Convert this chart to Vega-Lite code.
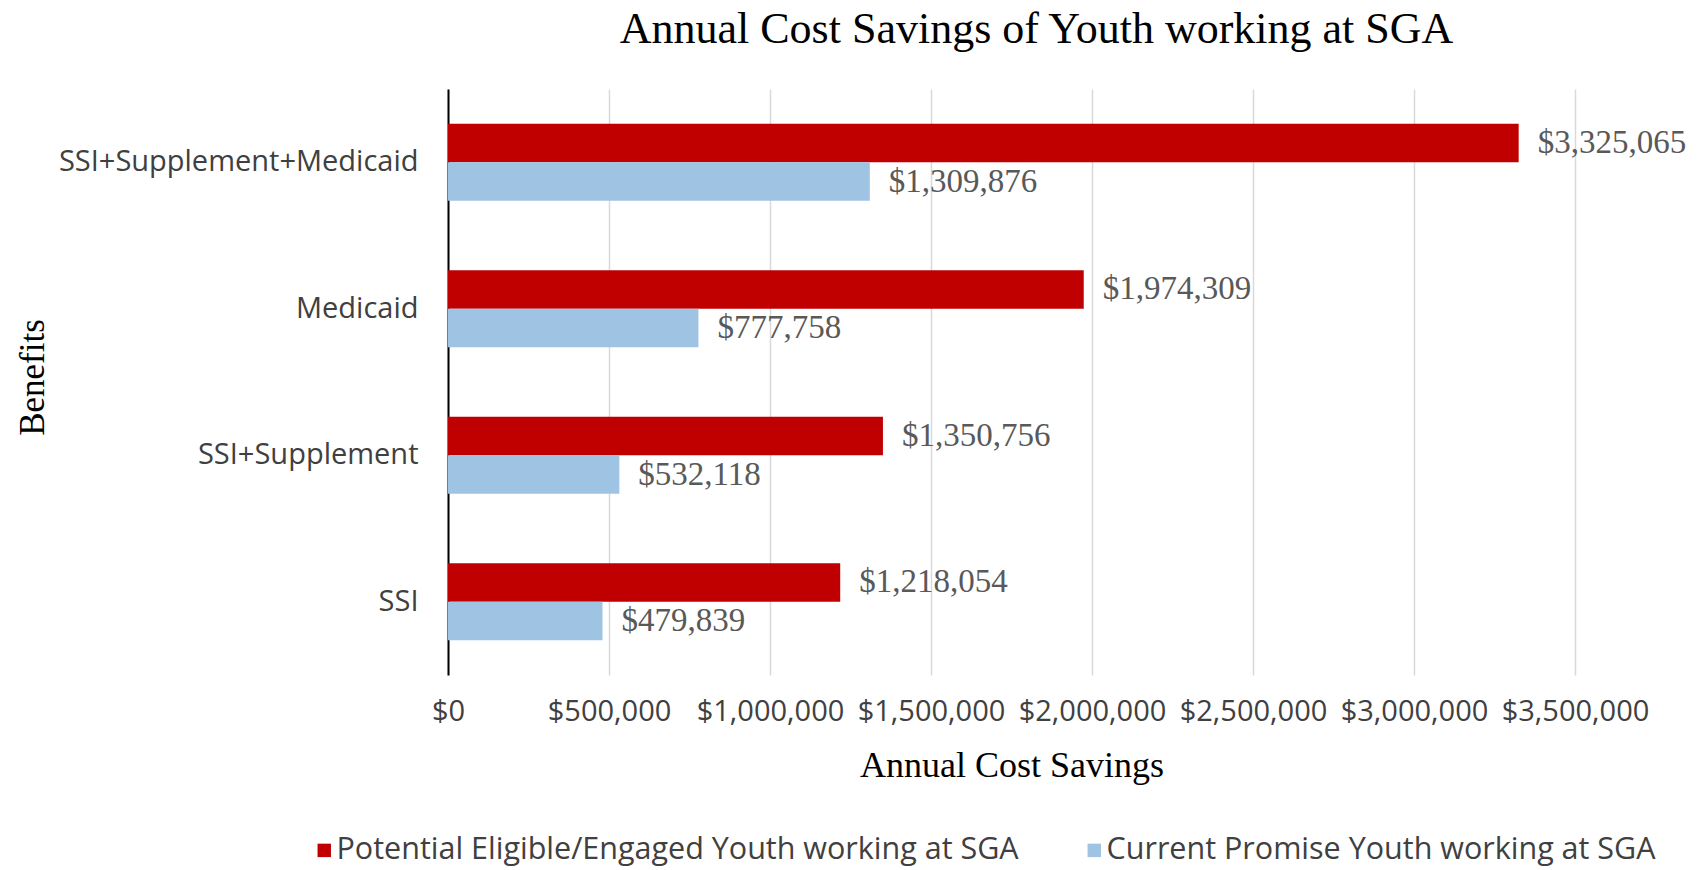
{
  "$schema": "https://vega.github.io/schema/vega-lite/v6.json",
  "width": 1127,
  "height": 586,
  "autosize": {"type": "none"},
  "padding": {"left": 448, "top": 89, "right": 125, "bottom": 195},
  "background": "white",
  "config": {"view": {"stroke": null}},
  "title": {
    "text": "Annual Cost Savings of Youth working at SGA",
    "font": "Liberation Serif",
    "fontSize": 44,
    "fontWeight": "normal",
    "color": "#000000",
    "anchor": "middle",
    "dx": 25,
    "offset": 37
  },
  "data": {
    "values": [
      {"Benefits": "SSI+Supplement+Medicaid", "Series": "Potential Eligible/Engaged Youth working at SGA", "Value": 3325065},
      {"Benefits": "SSI+Supplement+Medicaid", "Series": "Current Promise Youth working at SGA", "Value": 1309876},
      {"Benefits": "Medicaid", "Series": "Potential Eligible/Engaged Youth working at SGA", "Value": 1974309},
      {"Benefits": "Medicaid", "Series": "Current Promise Youth working at SGA", "Value": 777758},
      {"Benefits": "SSI+Supplement", "Series": "Potential Eligible/Engaged Youth working at SGA", "Value": 1350756},
      {"Benefits": "SSI+Supplement", "Series": "Current Promise Youth working at SGA", "Value": 532118},
      {"Benefits": "SSI", "Series": "Potential Eligible/Engaged Youth working at SGA", "Value": 1218054},
      {"Benefits": "SSI", "Series": "Current Promise Youth working at SGA", "Value": 479839}
    ]
  },
  "encoding": {
    "y": {
      "field": "Benefits",
      "type": "nominal",
      "sort": ["SSI+Supplement+Medicaid", "Medicaid", "SSI+Supplement", "SSI"],
      "scale": {"paddingInner": 0.474, "paddingOuter": 0.237},
      "axis": {
        "title": "Benefits",
        "titleFont": "Liberation Serif",
        "titleFontSize": 35,
        "titleFontWeight": "normal",
        "titleColor": "#000000",
        "titleX": -416,
        "titleY": 288,
        "titleAlign": "center",
        "titleBaseline": "middle",
        "titleAngle": -90,
        "labelFont": "Open Sans",
        "labelFontSize": 29,
        "labelColor": "#404040",
        "labelPadding": 30,
        "labelLimit": 1000,
        "ticks": false,
        "domain": true,
        "domainColor": "#000000",
        "domainWidth": 2,
        "grid": false
      }
    },
    "yOffset": {
      "field": "Series",
      "type": "nominal",
      "sort": ["Potential Eligible/Engaged Youth working at SGA", "Current Promise Youth working at SGA"]
    },
    "x": {
      "field": "Value",
      "type": "quantitative",
      "scale": {"domain": [0, 3500000], "nice": false},
      "axis": {
        "title": "Annual Cost Savings",
        "titleFont": "Liberation Serif",
        "titleFontSize": 36,
        "titleFontWeight": "normal",
        "titleColor": "#000000",
        "titlePadding": 22,
        "values": [0, 500000, 1000000, 1500000, 2000000, 2500000, 3000000, 3500000],
        "format": "$,.0f",
        "labelFont": "Open Sans",
        "labelFontSize": 29,
        "labelColor": "#404040",
        "labelPadding": 22,
        "labelOverlap": false,
        "labelFlush": false,
        "ticks": false,
        "domain": false,
        "grid": true,
        "gridColor": "#D9D9D9",
        "gridWidth": 1.5
      }
    }
  },
  "layer": [
    {
      "mark": {"type": "bar"},
      "encoding": {
        "color": {
          "field": "Series",
          "type": "nominal",
          "scale": {
            "domain": ["Potential Eligible/Engaged Youth working at SGA", "Current Promise Youth working at SGA"],
            "range": ["#C00000", "#9FC3E3"]
          },
          "legend": {
            "title": null,
            "orient": "none",
            "legendX": -139,
            "legendY": 746,
            "direction": "horizontal",
            "symbolType": "square",
            "symbolSize": 180,
            "symbolStrokeWidth": 0,
            "labelFont": "Open Sans",
            "labelFontSize": 30.5,
            "labelColor": "#404040",
            "labelOffset": -3,
            "columnPadding": 60,
            "labelLimit": 1000
          }
        }
      }
    },
    {
      "mark": {
        "type": "text",
        "align": "left",
        "baseline": "middle",
        "dx": 19,
        "font": "Liberation Serif",
        "fontSize": 33,
        "color": "#595959"
      },
      "encoding": {
        "text": {"field": "Value", "type": "quantitative", "format": "$,.0f"}
      }
    }
  ]
}
